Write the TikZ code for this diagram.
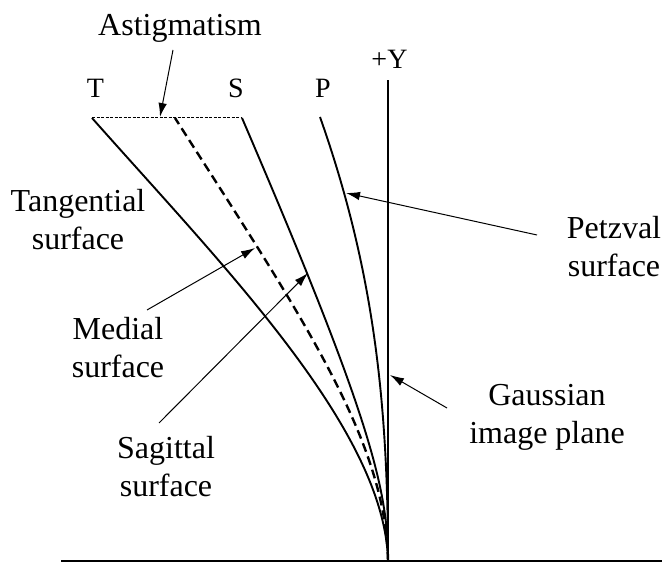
\documentclass[tikz,border=0pt]{standalone}
\usepackage{fontspec}
\setmainfont{Liberation Serif}
\usetikzlibrary{arrows.meta}
\begin{document}
\begin{tikzpicture}[x=1pt,y=1pt,
  lbl/.style={inner sep=0pt, align=center, font=\fontsize{32}{38}\selectfont},
  axlbl/.style={inner sep=0pt, font=\fontsize{28}{32}\selectfont},
  curve/.style={line width=1.9pt},
  medialline/.style={line width=2.4pt, dash pattern=on 9pt off 5pt},
  astigline/.style={line width=1pt, dash pattern=on 3pt off 1.5pt},
  axis/.style={line width=1.3pt},
  pointer/.style={line width=1pt, -{Latex[length=14pt,width=8.5pt]}},
]
\useasboundingbox (0,0) rectangle (664,562);

% labels
\node[lbl] (astig) at (180,533.5) {Astigmatism};
\node[lbl] (tang) at (78,342) {Tangential\\surface};
\node[lbl] (medial) at (118,214) {Medial\\surface};
\node[lbl] (sagit) at (166,95) {Sagittal\\surface};
\node[lbl] (gauss) at (547,144.5) {Gaussian\\image plane};
\node[lbl] (petz) at (614,315) {Petzval\\surface};
\node[axlbl] (tlab) at (95.5,473.5) {T};
\node[axlbl] (slab) at (236,473.5) {S};
\node[axlbl] (plab) at (323,473.5) {P};
\node[axlbl] (ylab) at (389.5,502.5) {+Y};

% key points
\coordinate (base) at (388,1);
\coordinate (ytop) at (388,482);
\coordinate (bl) at (61,1);
\coordinate (br) at (662,1);
\coordinate (Ttop) at (92,444);
\coordinate (Mtop) at (175,444);
\coordinate (Stop) at (242,444);
\coordinate (Ptop) at (320,445);

% axes
\draw[axis] (bl) -- (br);
\draw[axis] (base) -- (ytop);

% astigmatism bar
\draw[astigline] (Ttop) -- (Stop);

% surfaces
\draw[curve] (base) .. controls (385,132) and (225,294) .. (Ttop);
\draw[medialline] (base) .. controls (386,122) and (303,244) .. (Mtop);
\draw[curve] (base) .. controls (388,72) and (371,144) .. (Stop);
\draw[curve] (base) .. controls (388,162) and (373,295) .. (Ptop);

% pointer arrows
\coordinate (astigTail) at (173,512);
\coordinate (astigTip) at (160,445);
\coordinate (petzTail) at (537,327);
\coordinate (petzTip) at (346,369);
\coordinate (medTail) at (147,252);
\coordinate (medTip) at (255,314);
\coordinate (sagTail) at (159,139);
\coordinate (sagTip) at (308,289);
\coordinate (gaussTail) at (447,154);
\coordinate (gaussTip) at (390,187);

\draw[pointer] (astigTail) -- (astigTip);
\draw[pointer] (petzTail) -- (petzTip);
\draw[pointer] (medTail) -- (medTip);
\draw[pointer] (sagTail) -- (sagTip);
\draw[pointer] (gaussTail) -- (gaussTip);
\end{tikzpicture}
\end{document}
